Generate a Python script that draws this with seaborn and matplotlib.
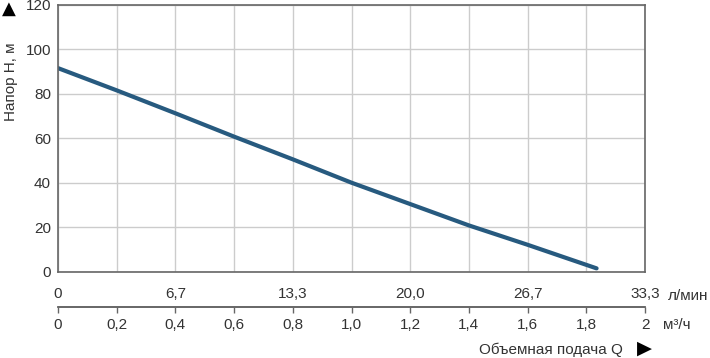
import matplotlib
matplotlib.use("Agg")
import matplotlib.pyplot as plt
import seaborn as sns
import pandas as pd

# Data
flow_m3h = [0, 0.2, 0.4, 0.6, 0.8, 1.0, 1.2, 1.4, 1.6, 1.835]
head_m = [91.5, 81.5, 71.2, 60.7, 50.5, 40.0, 30.4, 20.8, 12.1, 1.5]
m3h_ticks = [0, 0.2, 0.4, 0.6, 0.8, 1.0, 1.2, 1.4, 1.6, 1.8, 2.0]
m3h_labels = ["0", "0,2", "0,4", "0,6", "0,8", "1,0", "1,2", "1,4", "1,6", "1,8", "2"]
lmin_pos = [0, 0.4, 0.8, 1.2, 1.6, 2.0]
lmin_labels = ["0", "6,7", "13,3", "20,0", "26,7", "33,3"]
y_ticks = [0, 20, 40, 60, 80, 100, 120]

df = pd.DataFrame({"Q": flow_m3h, "H": head_m})

sns.set_theme(style="white")
plt.rcParams["font.family"] = ["Liberation Sans", "DejaVu Sans"]

W, H = 710, 358
fig = plt.figure(figsize=(W / 100, H / 100), dpi=100)

txt = "#333333"
frame = "#666666"
gridc = "#cccccc"
fs = 11

x0, x1 = 58, 645
ytop, ybot = 4.7, 271.7
ax = fig.add_axes([x0 / W, 1 - ybot / H, (x1 - x0) / W, (ybot - ytop) / H])
sns.lineplot(data=df, x="Q", y="H", ax=ax, color="#275a7f", linewidth=3.0,
             solid_capstyle="round")
ax.set_xlim(0, 2)
ax.set_ylim(0, 120)
ax.set_xticks(m3h_ticks)
ax.set_xticklabels([])
ax.set_yticks(y_ticks)
ax.set_yticklabels([str(v) for v in y_ticks], fontsize=fs, color=txt)
ax.tick_params(axis="y", length=0, pad=5)
ax.tick_params(axis="x", length=0)
ax.grid(True, color=gridc, linewidth=1.0)
ax.set_xlabel("")
ax.set_ylabel("")
for s in ax.spines.values():
    s.set_color(frame)
    s.set_linewidth(1.2)

# secondary axis strip
ys_bot, ys_top = 307.3, 302.0
ax2 = fig.add_axes([x0 / W, 1 - ys_bot / H, (x1 - x0) / W, (ys_bot - ys_top) / H])
ax2.set_xlim(0, 2)
ax2.set_ylim(0, 1)
ax2.patch.set_visible(False)
for k in ["top", "left", "right"]:
    ax2.spines[k].set_visible(False)
ax2.spines["bottom"].set_visible(True)
ax2.spines["bottom"].set_color(frame)
ax2.spines["bottom"].set_linewidth(1.2)
ax2.axhline(0, color=frame, linewidth=1.2, clip_on=False)
ax2.set_yticks([])
ax2.set_xticks(m3h_ticks)
ax2.set_xticklabels(m3h_labels, fontsize=fs, color=txt)
ax2.tick_params(axis="x", bottom=True, direction="out", length=4.5, width=1,
                color=frame, pad=3)
sec = ax2.secondary_xaxis("top")
sec.set_xticks(lmin_pos)
sec.set_xticklabels(lmin_labels, fontsize=fs, color=txt)
sec.tick_params(axis="x", length=0, pad=1)
sec.spines["top"].set_visible(False)

fig.text(668 / W, 1 - 296 / H, "л/мин", fontsize=fs, color=txt, va="center", ha="left")
fig.text(663 / W, 1 - 325 / H, "м³/ч", fontsize=fs, color=txt, va="center", ha="left")
fig.text(623 / W, 1 - 350 / H, "Объемная подача Q", fontsize=fs, color=txt,
         va="center", ha="right")
fig.text(644 / W, 1 - 348 / H, "▶", fontsize=14, color="black", va="center", ha="center",
         family=["DejaVu Sans"])
fig.text(11 / W, 1 - 82 / H, "Напор H, м", fontsize=fs, color=txt, va="center",
         ha="center", rotation=90)
fig.text(8.5 / W, 1 - 9 / H, "▲", fontsize=13, color="black", va="center", ha="center",
         family=["DejaVu Sans"])

fig.savefig("out.png", dpi=100)
